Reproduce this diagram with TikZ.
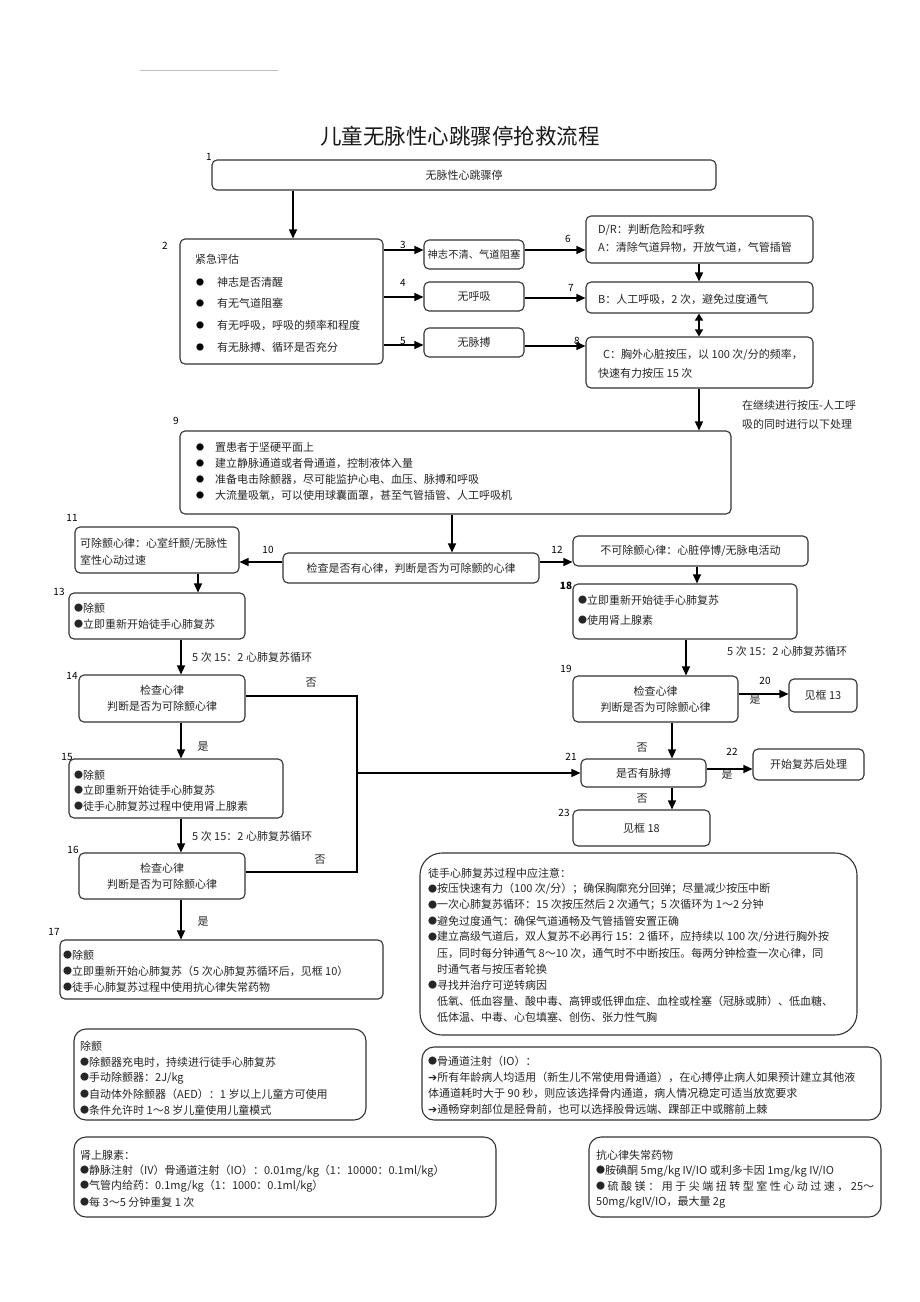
\documentclass[tikz,border=0pt]{standalone}
\usepackage{fontspec}
\setmainfont{Noto Sans CJK SC}
\newfontfamily\dejavu{DejaVu Sans}
\usetikzlibrary{arrows.meta}
\newcounter{tn}
\newcommand\myfont{\fontsize{11}{16}\selectfont}
\newcommand\tline[4][west]{\stepcounter{tn}\node[txt,anchor=#1] (t\thetn) at (#2,#3) {#4};}
\newcommand\lbl[3]{\stepcounter{tn}\node[num] (t\thetn) at (#1,#2) {#3};}
\newcommand\bul[2]{\stepcounter{tn}\node[bul] (t\thetn) at (#1,#2) {●};}
\newcommand\arw{{\dejavu\bfseries ➔}}
\newcommand\bl{\raisebox{0.5pt}{\fontsize{9}{9}\selectfont ●}}
\begin{document}
\begin{tikzpicture}[x=1pt,y=-1pt,
  box/.style={draw=black!80,line width=1.1pt,rounded corners=5pt,inner sep=0pt,font=\myfont,text=black!85,align=center},
  note/.style={draw=black!80,line width=1.1pt,rounded corners=12pt,inner sep=0pt},
  arr/.style={line width=1.3pt,draw=black,-{Triangle[length=9pt,width=8pt]}},
  darr/.style={line width=1.3pt,draw=black,{Triangle[length=7pt,width=8pt]}-{Triangle[length=7pt,width=8pt]}},
  ln/.style={line width=1.3pt,draw=black},
  txt/.style={inner sep=0pt,font=\myfont,text=black!85},
  num/.style={inner sep=0pt,font=\fontsize{10}{12}\selectfont,text=black},
  bul/.style={inner sep=0pt,font=\fontsize{8}{8}\selectfont,text=black}]
\useasboundingbox (0,0) rectangle (920,1302);
\fill[white] (0,0) rectangle (920,1302);
\draw[gray!50,line width=0.6pt] (140,70) -- (278,70);

\node[inner sep=0pt,font=\fontsize{21.5}{24}\selectfont,text=black!90] (title) at (460,136) {儿童无脉性心跳骤停抢救流程};

% ---------- top part ----------
\node[box,minimum width=504pt,minimum height=30pt] (b1) at (464,175) {无脉性心跳骤停};
\node[box,minimum width=203pt,minimum height=125pt] (b2) at (281.5,301.5) {};
\node[box,minimum width=100pt,minimum height=29pt,font=\fontsize{10.3}{12}\selectfont] (b3) at (474,254.5) {神志不清、气道阻塞};
\node[box,minimum width=100pt,minimum height=29pt] (b4) at (474,296.5) {无呼吸};
\node[box,minimum width=100pt,minimum height=29pt] (b5) at (474,342.5) {无脉搏};
\node[box,minimum width=227pt,minimum height=47pt] (b6) at (699.5,239.5) {};
\node[box,minimum width=227pt,minimum height=31pt] (b7) at (699.5,297.5) {};
\node[box,minimum width=227pt,minimum height=51pt] (b8) at (699.5,362.5) {};
\node[box,minimum width=551pt,minimum height=83pt] (b9) at (455.5,472.5) {};

\tline{195}{259}{紧急评估}
\bul{200}{282}\tline{217}{282}{神志是否清醒}
\bul{200}{303}\tline{217}{303}{有无气道阻塞}
\bul{200}{325}\tline{217}{325}{有无呼吸，呼吸的频率和程度}
\bul{200}{347}\tline{217}{347}{有无脉搏、循环是否充分}

\tline{598}{230}{D/R：判断危险和呼救}
\tline{598}{247}{A：清除气道异物，开放气道，气管插管}
\tline{598}{299}{B：人工呼吸，2 次，避免过度通气}
\tline{603}{355}{C：胸外心脏按压，以 100 次/分的频率，}
\tline{598}{373}{快速有力按压 15 次}
\tline{742}{405}{在继续进行按压-人工呼}
\tline{742}{424}{吸的同时进行以下处理}

\bul{200}{447}\tline{215}{447}{置患者于坚硬平面上}
\bul{200}{463}\tline{215}{463}{建立静脉通道或者骨通道，控制液体入量}
\bul{200}{479}\tline{215}{479}{准备电击除颤器，尽可能监护心电、血压、脉搏和呼吸}
\bul{200}{495}\tline{215}{495}{大流量吸氧，可以使用球囊面罩，甚至气管插管、人工呼吸机}

\draw[arr] (b1.south -| 293,0) -- (b2.north -| 293,0);
\draw[arr] (b2.east |- 0,250) -- (b3.west |- 0,250);
\draw[arr] (b2.east |- 0,297) -- (b4.west |- 0,297);
\draw[arr] (b2.east |- 0,345) -- (b5.west |- 0,345);
\draw[arr] (b3.east |- 0,250) -- (b6.west |- 0,250);
\draw[arr] (b4.east |- 0,298) -- (b7.west |- 0,298);
\draw[arr] (b5.east |- 0,346) -- (b8.west |- 0,346);
\draw[arr] (b6.south -| 699,0) -- (b7.north -| 699,0);
\draw[darr] (b7.south -| 699,0) -- (b8.north -| 699,0);
\draw[arr] (b8.south -| 699,0) -- (b9.north -| 699,0);

\lbl{209}{157}{1}\lbl{165}{246}{2}\lbl{403}{245}{3}\lbl{403}{283}{4}\lbl{403}{341}{5}
\lbl{568}{239}{6}\lbl{571}{288}{7}\lbl{577}{341}{8}\lbl{176}{421}{9}

% ---------- middle ----------
\node[box,minimum width=256pt,minimum height=30pt] (b10) at (411,568) {检查是否有心律，判断是否为可除颤的心律};
\node[box,minimum width=164pt,minimum height=46pt] (b11) at (157,550) {};
\node[box,minimum width=235pt,minimum height=30pt] (b12) at (690.5,551) {不可除颤心律：心脏停博/无脉电活动};
\node[box,minimum width=176pt,minimum height=46pt] (b13) at (157,616) {};
\node[box,minimum width=166pt,minimum height=47pt] (b14) at (162,698.5) {检查心律\\判断是否为可除颤心律};
\node[box,minimum width=214pt,minimum height=59pt] (b15) at (176,788.5) {};
\node[box,minimum width=166pt,minimum height=46pt] (b16) at (162,876) {检查心律\\判断是否为可除颤心律};
\node[box,minimum width=323pt,minimum height=59pt] (b17) at (221.5,969.5) {};
\node[box,minimum width=224pt,minimum height=55pt] (b18) at (685,611.5) {};
\node[box,minimum width=165pt,minimum height=46pt] (b19) at (655.5,699) {检查心律\\判断是否为可除颤心律};
\node[box,minimum width=68pt,minimum height=33pt] (b20) at (823,695.5) {见框 13};
\node[box,minimum width=125pt,minimum height=28pt] (b21) at (643.5,773) {是否有脉搏};
\node[box,minimum width=111pt,minimum height=31pt] (b22) at (808.5,764.5) {开始复苏后处理};
\node[box,minimum width=137pt,minimum height=36pt] (b23) at (641.5,828) {见框 18};

\tline{80}{544}{可除颤心律：心室纤颤/无脉性}
\tline{80}{560}{室性心动过速}
\tline{74}{608}{\bl{}除颤}
\tline{74}{624}{\bl{}立即重新开始徒手心肺复苏}
\tline{74}{775}{\bl{}除颤}
\tline{74}{790}{\bl{}立即重新开始徒手心肺复苏}
\tline{74}{806}{\bl{}徒手心肺复苏过程中使用肾上腺素}
\tline{63}{955}{\bl{}除颤}
\tline{63}{971}{\bl{}立即重新开始心肺复苏（5 次心肺复苏循环后，见框 10）}
\tline{63}{987}{\bl{}徒手心肺复苏过程中使用抗心律失常药物}
\tline{578}{600}{\bl{}立即重新开始徒手心肺复苏}
\tline{578}{620}{\bl{}使用肾上腺素}

\tline{192}{657}{5 次 15：2 心肺复苏循环}
\tline{192}{836}{5 次 15：2 心肺复苏循环}
\tline{727}{651}{5 次 15：2 心肺复苏循环}
\tline[center]{311}{683}{否}
\tline[center]{203}{747}{是}
\tline[center]{320}{860}{否}
\tline[center]{203}{922}{是}
\tline[center]{755}{700}{是}
\tline[center]{642}{748}{否}
\tline[center]{727}{775}{是}
\tline[center]{642}{799}{否}

\coordinate (jA) at (357,696);
\coordinate (jB) at (357,872);
\coordinate (jM) at (357,773);

\draw[arr] (b9.south -| 452,0) -- (b10.north -| 452,0);
\draw[arr] (b10.west |- 0,562) -- (b11.east |- 0,562);
\draw[arr] (b10.east |- 0,562) -- (b12.west |- 0,562);
\draw[arr] (b11.south -| 198,0) -- (b13.north -| 198,0);
\draw[arr] (b13.south -| 181,0) -- (b14.north -| 181,0);
\draw[arr] (b14.south -| 181,0) -- (b15.north -| 181,0);
\draw[arr] (b15.south -| 181,0) -- (b16.north -| 181,0);
\draw[arr] (b16.south -| 181,0) -- (b17.north -| 181,0);
\draw[ln] (b14.east |- jA) -- (jA) -- (jB) -- (b16.east |- jB);
\draw[arr] (jM) -- (b21.west |- jM);
\draw[arr] (b12.south -| 697,0) -- (b18.north -| 697,0);
\draw[arr] (b18.south -| 686,0) -- (b19.north -| 686,0);
\draw[arr] (b19.east |- 0,694) -- (b20.west |- 0,694);
\draw[arr] (b19.south -| 672,0) -- (b21.north -| 672,0);
\draw[arr] (b21.east |- 0,769) -- (b22.west |- 0,769);
\draw[arr] (b21.south -| 672,0) -- (b23.north -| 672,0);

\lbl{268}{550}{10}\lbl{72}{518}{11}\lbl{557}{550}{12}\lbl{59}{592}{13}\lbl{72}{676}{14}
\lbl{67}{757}{15}\lbl{73}{850}{16}\lbl{54}{932}{17}\lbl{566}{586}{\bfseries 18}\lbl{566}{669}{19}
\lbl{765}{681}{20}\lbl{571}{757}{21}\lbl{732}{752}{22}\lbl{564}{813}{23}

% ---------- notes ----------
\node[note,rounded corners=22pt,minimum width=437pt,minimum height=182pt] (n1) at (638.5,944) {};
\tline{428}{873}{徒手心肺复苏过程中应注意：}
\tline{428}{889}{\bl{}按压快速有力（100 次/分）；确保胸廓充分回弹；尽量减少按压中断}
\tline{428}{905}{\bl{}一次心肺复苏循环：15 次按压然后 2 次通气；5 次循环为 1～2 分钟}
\tline{428}{921}{\bl{}避免过度通气：确保气道通畅及气管插管安置正确}
\tline{428}{937}{\bl{}建立高级气道后，双人复苏不必再行 15：2 循环，应持续以 100 次/分进行胸外按}
\tline{437}{953}{压，同时每分钟通气 8～10 次，通气时不中断按压。每两分钟检查一次心律，同}
\tline{437}{969}{时通气者与按压者轮换}
\tline{428}{985}{\bl{}寻找并治疗可逆转病因}
\tline{437}{1001}{低氧、低血容量、酸中毒、高钾或低钾血症、血栓或栓塞（冠脉或肺）、低血糖、}
\tline{437}{1017}{低体温、中毒、心包填塞、创伤、张力性气胸}

\node[note,minimum width=292pt,minimum height=91pt] (n2) at (220,1074.5) {};
\tline{80}{1046}{除颤}
\tline{80}{1062}{\bl{}除颤器充电时，持续进行徒手心肺复苏}
\tline{80}{1078}{\bl{}手动除颤器：2J/kg}
\tline{80}{1094}{\bl{}自动体外除颤器（AED）：1 岁以上儿童方可使用}
\tline{80}{1110}{\bl{}条件允许时 1～8 岁儿童使用儿童模式}

\node[note,minimum width=459pt,minimum height=73pt] (n3) at (651.5,1083.5) {};
\tline{428}{1061}{\bl{}骨通道注射（IO）：}
\tline{428}{1077}{\arw 所有年龄病人均适用（新生儿不常使用骨通道），在心搏停止病人如果预计建立其他液}
\tline{428}{1093}{体通道耗时大于 90 秒，则应该选择骨内通道，病人情况稳定可适当放宽要求}
\tline{428}{1109}{\arw 通畅穿刺部位是胫骨前，也可以选择股骨远端、踝部正中或髂前上棘}

\node[note,minimum width=422pt,minimum height=80pt] (n4) at (285,1177) {};
\tline{80}{1155}{肾上腺素：}
\tline{80}{1171}{\bl{}静脉注射（IV）骨通道注射（IO）：0.01mg/kg（1：10000：0.1ml/kg）}
\tline{80}{1186}{\bl{}气管内给药：0.1mg/kg（1：1000：0.1ml/kg）}
\tline{80}{1202}{\bl{}每 3～5 分钟重复 1 次}

\node[note,minimum width=292pt,minimum height=80pt] (n5) at (735,1177) {};
\tline{596}{1155}{抗心律失常药物}
\tline{596}{1171}{\bl{}胺碘酮 5mg/kg IV/IO 或利多卡因 1mg/kg IV/IO}
\tline{596}{1186}{\makebox[278pt][s]{\bl{} 硫 酸 镁 ： 用 于 尖 端 扭 转 型 室 性 心 动 过 速 ， 25～}}
\tline{596}{1202}{50mg/kgIV/IO，最大量 2g}
\end{tikzpicture}
\end{document}
